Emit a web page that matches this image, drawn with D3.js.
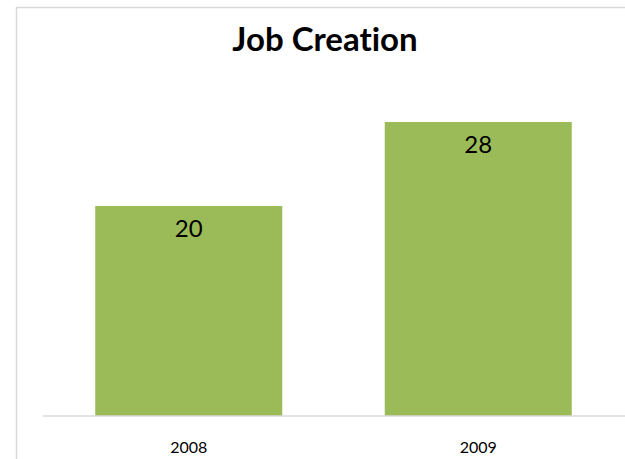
<!DOCTYPE html>
<html>
<head>
<meta charset="utf-8">
<script src="https://cdn.jsdelivr.net/npm/d3@7"></script>
<style>
  html, body { margin: 0; padding: 0; background: #fff; }
  svg { display: block; }
  text { font-variant-ligatures: none; font-feature-settings: "liga" 0; }
</style>
</head>
<body>
<div id="chart"></div>
<script>
const title = "Job Creation";
const categories = ["2008", "2009"];
const values = [20, 28];
const yDomain = [0, 30];

const W = 625, H = 459;
const svg = d3.select("#chart").append("svg").attr("width", W).attr("height", H);

// chart border
svg.append("path")
  .attr("d", `M16.5,${H} V7.5 H${W}`)
  .attr("fill", "none").attr("stroke", "#d9d9d9").attr("stroke-width", 1.5);

const x = d3.scaleBand().domain(categories).range([44, 623]).paddingInner(0.354).paddingOuter(0.177);
const y = d3.scaleLinear().domain(yDomain).range([416, 101]);

svg.append("text")
  .attr("x", 325).attr("y", 51)
  .attr("text-anchor", "middle")
  .attr("font-family", "Lato, 'Open Sans', sans-serif")
  .attr("font-weight", "bold")
  .attr("font-size", 33)
  .attr("fill", "#000")
  .text(title);

svg.selectAll("rect.bar").data(values).enter().append("rect")
  .attr("class", "bar")
  .attr("x", (d, i) => x(categories[i]))
  .attr("width", x.bandwidth())
  .attr("y", d => y(d))
  .attr("height", d => y(0) - y(d))
  .attr("fill", "#9BBB59");

svg.selectAll("text.lbl").data(values).enter().append("text")
  .attr("class", "lbl")
  .attr("x", (d, i) => x(categories[i]) + x.bandwidth() / 2)
  .attr("y", d => y(d) + 31)
  .attr("text-anchor", "middle")
  .attr("font-family", "Lato, 'Open Sans', sans-serif")
  .attr("font-size", 24)
  .attr("fill", "#000")
  .text(d => d);

const xAxis = svg.append("g").attr("transform", "translate(0,416)")
  .call(d3.axisBottom(x).tickSize(0).tickPadding(26));
xAxis.select(".domain").attr("stroke", "#d9d9d9").attr("stroke-width", 1.5)
  .attr("d", "M43,0 H625");
xAxis.selectAll("text")
  .attr("font-family", "Lato, 'Open Sans', sans-serif")
  .attr("font-size", 16)
  .attr("fill", "#000");
</script>
</body>
</html>
